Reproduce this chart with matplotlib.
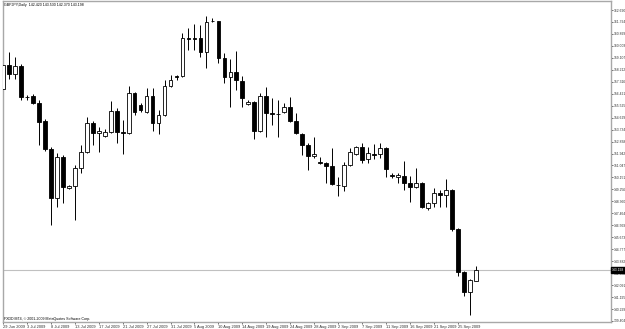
import numpy as np
import matplotlib
matplotlib.use("Agg")
import matplotlib.pyplot as plt

# GBPJPY daily candles, 29 Jun 2009 - 25 Sep 2009
opens = [156.774, 158.571, 157.897, 158.497, 156.175, 156.250, 155.726, 154.378, 152.282, 148.613,
         151.682, 149.361, 149.511, 150.859, 152.057, 154.228, 153.480, 153.255, 153.555, 155.127,
         153.555, 153.480, 156.475, 155.576, 155.052, 156.250, 154.228, 154.828, 156.999, 157.748,
         157.748, 160.593, 160.593, 160.593, 159.545, 161.866, 161.866, 159.096, 157.673, 158.047,
         157.373, 155.651, 155.801, 153.629, 156.250, 154.977, 154.902, 155.052, 155.427, 154.378,
         153.405, 152.581, 151.757, 151.308, 151.233, 151.009, 149.586, 149.511, 151.083, 151.907,
         152.431, 151.533, 151.907, 151.907, 152.356, 150.335, 150.185, 150.260, 149.736, 149.436,
         149.736, 147.864, 148.238, 148.987, 148.837, 149.212, 146.291, 143.072, 141.574, 142.420]
highs = [158.796, 159.545, 159.171, 158.646, 156.325, 156.400, 155.951, 154.528, 152.431, 151.982,
         151.832, 149.586, 151.083, 152.581, 154.678, 154.378, 153.929, 153.779, 155.876, 155.352,
         154.453, 156.999, 156.550, 155.726, 156.849, 156.849, 155.202, 157.448, 157.822, 157.822,
         160.968, 161.342, 161.642, 161.567, 162.241, 162.091, 161.900, 159.470, 159.021, 159.620,
         157.748, 155.951, 155.876, 156.475, 156.924, 156.100, 155.951, 155.726, 156.175, 154.977,
         153.480, 152.731, 153.180, 151.682, 151.308, 152.356, 150.185, 151.308, 152.356, 152.506,
         152.731, 152.431, 152.656, 152.731, 152.431, 150.484, 150.484, 151.383, 150.260, 150.859,
         149.811, 148.313, 149.361, 149.212, 150.035, 149.287, 146.366, 143.146, 142.547, 143.530]
lows = [156.325, 157.523, 157.523, 155.951, 155.951, 155.651, 152.581, 152.132, 146.591, 147.939,
        148.238, 149.287, 146.965, 150.484, 151.982, 152.581, 152.057, 153.180, 153.480, 152.731,
        151.907, 153.405, 154.828, 155.052, 154.977, 153.629, 153.405, 154.753, 156.924, 157.448,
        157.673, 159.695, 159.695, 159.171, 158.347, 161.792, 158.721, 157.224, 155.427, 156.699,
        155.427, 155.576, 153.030, 153.555, 153.180, 154.079, 153.180, 154.977, 154.303, 153.405,
        151.832, 150.709, 151.608, 151.158, 149.736, 149.586, 148.762, 149.137, 151.009, 151.832,
        151.233, 151.233, 151.533, 151.608, 150.185, 150.110, 149.736, 149.212, 148.313, 149.361,
        147.864, 147.714, 147.939, 147.939, 147.939, 146.141, 142.772, 141.274, 139.852, 142.370]
closes = [158.571, 157.897, 158.497, 156.175, 156.150, 155.726, 154.303, 152.282, 148.613, 151.682,
          149.436, 149.511, 150.859, 152.057, 154.228, 153.480, 153.629, 153.555, 155.127, 153.555,
          153.480, 156.475, 155.052, 155.202, 156.250, 154.228, 154.828, 156.999, 157.448, 157.673,
          160.593, 160.518, 160.518, 159.545, 161.792, 161.880, 159.096, 157.673, 158.047, 157.448,
          156.100, 155.801, 153.629, 156.250, 154.977, 154.902, 154.910, 155.427, 154.378, 153.480,
          152.581, 151.757, 151.907, 151.233, 151.009, 149.661, 149.580, 151.083, 152.057, 152.431,
          151.458, 151.982, 151.832, 152.356, 150.784, 150.260, 150.335, 149.736, 149.436, 149.736,
          147.939, 148.238, 148.987, 148.837, 149.212, 146.291, 143.072, 141.574, 142.472, 143.198]

date_labels = ["29 Jun 2009", "3 Jul 2009", "8 Jul 2009", "13 Jul 2009", "17 Jul 2009",
               "21 Jul 2009", "27 Jul 2009", "31 Jul 2009", "5 Aug 2009", "10 Aug 2009",
               "14 Aug 2009", "19 Aug 2009", "24 Aug 2009", "28 Aug 2009", "2 Sep 2009",
               "7 Sep 2009", "11 Sep 2009", "16 Sep 2009", "21 Sep 2009", "25 Sep 2009"]
price_labels = ["162.690", "161.794", "160.899", "160.003", "159.107", "158.212", "157.316",
                "156.421", "155.525", "154.629", "153.734", "152.838", "151.942", "151.047",
                "150.151", "149.256", "148.360", "147.464", "146.569", "145.673", "144.777",
                "143.882", "142.986", "142.091", "141.195", "140.299", "139.404"]
last_price = 143.198

plt.rcParams["font.family"] = ["Liberation Sans", "DejaVu Sans"]

o = np.array(opens)
h = np.array(highs)
l = np.array(lows)
c = np.array(closes)
x = np.arange(len(o))
up = c >= o

fig = plt.figure(figsize=(6.25, 3.29), dpi=100)
ax = fig.add_axes([3 / 625, 1 - 322 / 329, 608 / 625, 321 / 329])

ax.axhline(last_price, color="#c0c0c0", lw=0.8, zorder=1)
ax.vlines(x, l, h, color="black", lw=0.7, zorder=2)
body = np.where(np.abs(c - o) < 0.02, 0.02, c - o)
ax.bar(x[up], body[up], bottom=o[up], width=0.62, facecolor="white",
       edgecolor="black", lw=0.6, zorder=3)
ax.bar(x[~up], body[~up], bottom=o[~up], width=0.62, facecolor="black",
       edgecolor="black", lw=0.6, zorder=3)

ax.set_xlim(0.283, 0.283 + 608 / 6)
ax.set_ylim(139.328, 163.364)

ax.set_xticks(x[::4])
ax.set_xticklabels(date_labels, fontsize=2.9, ha="left")
ax.yaxis.tick_right()
ax.set_yticks([float(s) for s in price_labels])
ax.set_yticklabels(price_labels, fontsize=2.45)
ax.tick_params(axis="both", length=1.5, width=0.5, pad=0.4, colors="#303030")

for s in ax.spines.values():
    s.set_color("#a8a8a8")
    s.set_linewidth(1.0)

ax.text(0.002, 0.995, "GBPJPY,Daily  142.420 143.530 142.370 143.198",
        transform=ax.transAxes, fontsize=2.6, va="top", ha="left")
ax.text(0.002, 0.004, "FXDD MT4, \u00a9 2001-2009 MetaQuotes Software Corp.",
        transform=ax.transAxes, fontsize=2.6, va="bottom", ha="left")
ax.text(1.002, last_price, f"{last_price:.3f}", transform=ax.get_yaxis_transform(),
        fontsize=2.45, color="white", va="center", ha="left",
        bbox=dict(boxstyle="square,pad=0.25", facecolor="black", edgecolor="black"))

fig.savefig("out.png", dpi=100)
